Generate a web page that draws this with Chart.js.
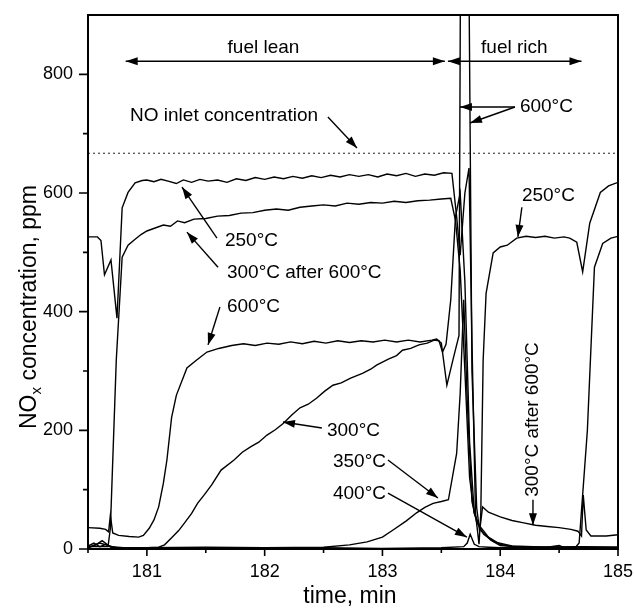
<!DOCTYPE html>
<html><head><meta charset="utf-8">
<script src="https://cdn.jsdelivr.net/npm/chart.js@4.4.0/dist/chart.umd.min.js"></script>
<style>html,body{margin:0;padding:0;background:#fff;} canvas{display:block;}</style>
</head><body>
<canvas id="c" width="634" height="609"></canvas>
<script>
// ---------- DATA (time in min, NOx in ppm) ----------
const inletLevel = 667;
const xTickValues = [181, 182, 183, 184, 185];
const yTickValues = [0, 200, 400, 600, 800];

const time250 = [180.5,180.58,180.61,180.64,180.695,180.746,180.79,180.84,180.9,180.96,
 181.0,181.06,181.12,181.18,181.25,181.31,181.38,181.45,181.52,181.6,
 181.68,181.76,181.84,181.92,182.0,182.08,182.16,182.24,182.32,182.4,
 182.48,182.56,182.64,182.72,182.8,182.88,182.96,183.04,183.12,183.2,
 183.28,183.36,183.44,183.52,183.59,183.63,183.66,183.7,183.735,183.76,
 183.79,183.82,183.835,183.855,183.88,183.94,184.0,184.06,184.14,184.22,
 184.3,184.38,184.46,184.54,184.59,184.65,184.70,184.76,184.85,184.92,
 185.0];
const nox250 = [526,526,520,462,487,389,575,601,617,621,
 622,619,623,620,616,622,618,623,620,622,
 618,624,621,626,623,627,624,628,625,629,
 626,630,627,631,628,631,627,632,629,633,
 628,632,630,634,633,560,495,600,642,350,
 60,8,60,318,431,499,509,512,524,527,
 525,527,524,526,524,517,467,549,601,612,
 618];

const time300after600 = [180.5,180.6,180.67,180.69,180.74,180.79,180.84,180.9,180.95,181.0,
 181.07,181.14,181.2,181.26,181.32,181.4,181.5,181.6,181.7,181.8,
 181.9,182.0,182.1,182.2,182.3,182.4,182.5,182.6,182.7,182.8,
 182.9,183.0,183.1,183.2,183.3,183.4,183.5,183.58,183.62,183.66,
 183.7,183.74,183.78,183.82,183.9,184.0,184.1,184.3,184.5,184.64,
 184.67,184.74,184.8,184.87,184.94,185.0];
const nox300after600 = [4,4,4,35,318,492,512,522,530,536,
 541,546,544,553,550,556,557,561,562,566,
 567,571,573,571,576,578,580,578,583,581,
 584,583,586,584,587,588,590,591,554,470,
 300,120,60,40,20,8,4,3,3,3,
 10,200,475,515,524,527];

const time600 = [180.5,180.6,180.65,180.675,180.69,180.71,180.76,180.85,180.93,180.97,
 181.02,181.06,181.1,181.14,181.17,181.21,181.25,181.34,181.42,181.51,
 181.61,181.72,181.82,181.92,182.02,182.12,182.22,182.32,182.42,182.52,
 182.62,182.72,182.82,182.92,183.02,183.12,183.22,183.32,183.42,183.46,
 183.5,183.547,183.6,183.65,183.662,183.735,183.76,183.8,183.825,183.85,
 183.9,184.0,184.1,184.2,184.3,184.4,184.5,184.6,184.66,184.69,
 184.705,184.73,184.77,184.9,185.0];
const nox600 = [36,35,33,29,57,27,23,21,20,23,
 35,49,71,111,150,222,259,305,318,332,
 338,343,346,343,347,345,349,346,350,347,
 351,348,351,349,352,349,352,349,352,354,
 347,276,320,360,950,950,300,70,30,71,
 62,54,48,44,40,38,36,33,30,22,
 91,32,22,22,24];

const time300 = [180.5,180.6,180.7,180.8,180.9,181.0,181.1,181.15,181.21,181.27,
 181.32,181.38,181.43,181.49,181.55,181.63,181.74,181.81,181.88,181.95,
 182.02,182.09,182.16,182.23,182.3,182.37,182.44,182.51,182.58,182.65,
 182.73,182.83,182.9,182.95,183.05,183.12,183.17,183.24,183.31,183.38,
 183.44,183.48,183.51,183.54,183.58,183.62,183.66,183.7,183.74,183.78,
 183.84,183.92,184.0,184.2,184.4,184.6,184.8,185.0];
const nox300 = [3,10,4,2,2,2,3,7,19,31,
 44,60,77,92,108,133,150,163,172,180,
 192,201,212,226,238,244,254,266,276,280,
 288,296,303,310,320,326,335,338,344,347,
 352,351,332,345,420,560,600,450,180,60,
 30,15,6,3,3,3,3,3];

const time350 = [180.5,180.56,180.62,180.68,180.75,181.0,181.5,182.0,182.5,182.72,
 182.87,183.0,183.09,183.2,183.29,183.36,183.43,183.5,183.56,183.63,
 183.66,183.69,183.72,183.76,183.8,183.86,183.95,184.1,184.4,184.7,
 185.0];
const nox350 = [2,6,14,5,2,2,3,2,3,7,
 12,20,32,47,61,70,77,80,83,161,
 262,420,250,80,45,25,12,5,3,4,
 3];

const time400 = [180.5,180.55,180.6,180.65,180.7,181.0,181.5,182.0,182.5,183.0,
 183.5,183.69,183.72,183.745,183.78,183.82,183.9,184.0,184.2,184.4,
 184.5,184.55,184.6,184.8,185.0];
const nox400 = [5,10,4,8,2,1,2,1,2,1,
 2,4,10,25,8,4,3,2,2,3,
 6,2,3,2,2];

// ---------- annotation anchors (data coordinates) ----------
const noteTexts = [
  {text:'fuel lean', t:181.99, v:844, align:'center'},
  {text:'fuel rich', t:184.12, v:844, align:'center'},
  {text:'NO inlet concentration', t:180.857, v:731, align:'left'},
  {text:'600°C', t:184.167, v:745, align:'left'},
  {text:'250°C', t:181.663, v:519, align:'left'},
  {text:'300°C after 600°C', t:181.68, v:465, align:'left'},
  {text:'600°C', t:181.68, v:409, align:'left'},
  {text:'300°C', t:182.529, v:200, align:'left'},
  {text:'350°C', t:182.58, v:147, align:'left'},
  {text:'400°C', t:182.58, v:93, align:'left'},
  {text:'250°C', t:184.184, v:595, align:'left'},
  {text:'300°C after 600°C', t:184.278, v:88, align:'left', vertical:true}
];
const noteArrows = [
  {from:[180.82,822], to:[183.53,822], both:true},
  {from:[183.556,822], to:[184.69,822], both:true},
  {from:[182.537,728], to:[182.784,676]},
  {from:[184.125,745], to:[183.658,745]},
  {from:[184.125,745], to:[183.743,718]},
  {from:[181.595,524], to:[181.298,610]},
  {from:[181.604,475], to:[181.34,534]},
  {from:[181.62,408], to:[181.519,344]},
  {from:[182.486,204], to:[182.155,214]},
  {from:[183.047,150], to:[183.471,86]},
  {from:[183.047,94], to:[183.717,20]},
  {from:[184.184,576], to:[184.15,526]},
  {from:[184.278,83], to:[184.278,40]}
];

// ---------- chart ----------
const FONT = 'Arial, "Liberation Sans", sans-serif';
function pts(ts, vs){ return ts.map((t,i)=>({x:t, y:vs[i]})); }
function series(label, ts, vs){
  return {label, data: pts(ts,vs), borderColor:'#000', borderWidth:1.4, pointRadius:0, tension:0, fill:false};
}

const framePlugin = {
  id:'frame',
  afterDatasetsDraw(chart){
    const ctx = chart.ctx, a = chart.chartArea, xs = chart.scales.x, ys = chart.scales.y;
    ctx.save();
    ctx.strokeStyle = '#000'; ctx.lineWidth = 2;
    ctx.strokeRect(a.left, a.top, a.right - a.left, a.bottom - a.top);
    ctx.lineWidth = 1.6;
    ctx.beginPath();
    for (let v = 0; v <= 800; v += 100){
      const y = ys.getPixelForValue(v);
      const len = (v % 200 === 0) ? 9 : 5;
      ctx.moveTo(a.left - len, y); ctx.lineTo(a.left, y);
    }
    for (let t = 180.5; t <= 185.001; t += 0.5){
      const x = xs.getPixelForValue(t);
      const len = (Math.abs(t - Math.round(t)) < 1e-6) ? 7 : 4;
      ctx.moveTo(x, a.bottom); ctx.lineTo(x, a.bottom + len);
    }
    ctx.stroke();

    // annotations
    ctx.fillStyle = '#000'; ctx.strokeStyle = '#000';
    ctx.font = '19px ' + FONT;
    ctx.textBaseline = 'middle';
    for (const n of noteTexts){
      const x = xs.getPixelForValue(n.t), y = ys.getPixelForValue(n.v);
      if (n.vertical){
        ctx.save(); ctx.translate(x, y); ctx.rotate(-Math.PI/2);
        ctx.textAlign = 'left'; ctx.fillText(n.text, 0, 0); ctx.restore();
      } else {
        ctx.textAlign = n.align; ctx.fillText(n.text, x, y);
      }
    }
    function head(x1,y1,x2,y2){
      const ang = Math.atan2(y2-y1, x2-x1), L = 12, W = 4;
      ctx.beginPath();
      ctx.moveTo(x2, y2);
      ctx.lineTo(x2 - L*Math.cos(ang) + W*Math.sin(ang), y2 - L*Math.sin(ang) - W*Math.cos(ang));
      ctx.lineTo(x2 - L*Math.cos(ang) - W*Math.sin(ang), y2 - L*Math.sin(ang) + W*Math.cos(ang));
      ctx.closePath(); ctx.fill();
    }
    ctx.lineWidth = 1.4;
    for (const ar of noteArrows){
      const x1 = xs.getPixelForValue(ar.from[0]), y1 = ys.getPixelForValue(ar.from[1]);
      const x2 = xs.getPixelForValue(ar.to[0]), y2 = ys.getPixelForValue(ar.to[1]);
      ctx.beginPath(); ctx.moveTo(x1,y1); ctx.lineTo(x2,y2); ctx.stroke();
      head(x1,y1,x2,y2);
      if (ar.both) head(x2,y2,x1,y1);
    }

    // axis titles
    ctx.font = '23px ' + FONT;
    ctx.textAlign = 'center'; ctx.textBaseline = 'middle';
    ctx.fillText('time, min', (a.left + a.right)/2 - 3, 597);
    // y title with subscript
    const big = '23px ' + FONT, small = '15px ' + FONT;
    ctx.font = big; const w1 = ctx.measureText('NO').width;
    const w3 = ctx.measureText(' concentration, ppm').width;
    ctx.font = small; const w2 = ctx.measureText('x').width;
    const total = w1 + w2 + w3;
    ctx.save();
    ctx.translate(30, (a.top + a.bottom)/2 + 25);
    ctx.rotate(-Math.PI/2);
    ctx.textAlign = 'left'; ctx.textBaseline = 'middle';
    let cx = -total/2;
    ctx.font = big; ctx.fillText('NO', cx, 0); cx += w1;
    ctx.font = small; ctx.fillText('x', cx, 7); cx += w2;
    ctx.font = big; ctx.fillText(' concentration, ppm', cx, 0);
    ctx.restore();
    ctx.restore();
  }
};

new Chart(document.getElementById('c'), {
  type:'line',
  data:{ datasets:[
    {label:'NO inlet', data:[{x:180.5,y:inletLevel},{x:185,y:inletLevel}], borderColor:'#222', borderWidth:1, borderDash:[2,3], pointRadius:0, fill:false},
    series('250°C', time250, nox250),
    series('300°C after 600°C', time300after600, nox300after600),
    series('600°C', time600, nox600),
    series('300°C', time300, nox300),
    series('350°C', time350, nox350),
    series('400°C', time400, nox400)
  ]},
  options:{
    responsive:false, animation:false, devicePixelRatio:1,
    layout:{ padding:{ left:0, right:16, top:15, bottom:0 } },
    plugins:{ legend:{display:false}, tooltip:{enabled:false} },
    scales:{
      x:{ type:'linear', min:180.5, max:185,
          grid:{display:false, drawTicks:false}, border:{display:false},
          ticks:{ stepSize:0.5, autoSkip:false, maxRotation:0, color:'#000', padding:12,
                  font:{family:FONT, size:18},
                  callback:(v)=> xTickValues.includes(v) ? String(v) : '' },
          afterFit:(s)=>{ s.height = 60; s.paddingLeft = 0; s.paddingRight = 0; s.paddingTop = 0; s.paddingBottom = 0; } },
      y:{ type:'linear', min:0, max:900,
          grid:{display:false, drawTicks:false}, border:{display:false},
          ticks:{ stepSize:100, autoSkip:false, color:'#000', padding:15,
                  font:{family:FONT, size:18},
                  callback:(v)=> yTickValues.includes(v) ? String(v) : '' },
          afterFit:(s)=>{ s.width = 88; s.paddingLeft = 0; s.paddingRight = 0; s.paddingTop = 0; s.paddingBottom = 0; } }
    }
  },
  plugins:[framePlugin]
});
</script></body></html>
